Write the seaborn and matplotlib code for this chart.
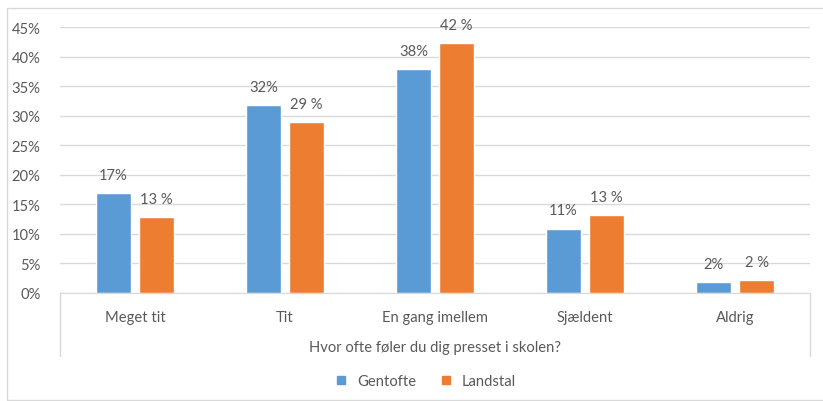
import pandas as pd
import matplotlib.pyplot as plt
import seaborn as sns
from matplotlib.patches import Rectangle
from matplotlib.lines import Line2D

categories = ["Meget tit", "Tit", "En gang imellem", "Sjældent", "Aldrig"]
gentofte = [16.9, 31.8, 37.9, 10.9, 1.9]
landstal = [12.8, 28.9, 42.3, 13.2, 2.2]
series = ["Gentofte", "Landstal"]
colors = ["#5B9BD5", "#ED7D31"]

df = pd.DataFrame({
    "kategori": categories * 2,
    "andel": [v / 100 for v in gentofte + landstal],
    "gruppe": ["Gentofte"] * 5 + ["Landstal"] * 5,
})

sns.set_style("white")
plt.rcParams["font.family"] = ["Lato", "DejaVu Sans"]
txt = "#595959"
fs = 10.6

fig = plt.figure(figsize=(8.23, 4.02), dpi=100)
ax = fig.add_axes([60 / 823, 1 - 294 / 402, 750 / 823, 266 / 402])

sns.barplot(data=df, x="kategori", y="andel", hue="gruppe", palette=colors,
            width=0.575, gap=0.2, legend=False, ax=ax, saturation=1)

ax.set_ylim(0, 0.45)
ax.set_xlim(-0.5, 4.5)
ax.set_yticks([i * 0.05 for i in range(10)])
ax.set_yticklabels([f"{i * 5}%" for i in range(10)], color=txt, fontsize=fs)
ax.tick_params(axis="y", length=0, pad=14)
ax.tick_params(axis="x", length=0, pad=12, labelcolor=txt, labelsize=fs)
ax.grid(axis="y", color="#D9D9D9", linewidth=1)
ax.set_axisbelow(True)
for s in ["top", "right", "left"]:
    ax.spines[s].set_visible(False)
ax.spines["bottom"].set_color("#D9D9D9")
ax.set_xlabel("Hvor ofte føler du dig presset i skolen?", color=txt, fontsize=fs, labelpad=12)
ax.set_ylabel("")

# bar labels
for cont, fmt in zip(ax.containers, ["{:.0f}%", "{:.0f} %"]):
    ax.bar_label(cont, labels=[fmt.format(b.get_height() * 100) for b in cont],
                 padding=8, color=txt, fontsize=fs)

# multi-level category box lines
for xv in [0, 1]:
    ax.plot([xv, xv], [0, -63 / 266], transform=ax.transAxes, color="#D9D9D9",
            linewidth=1, clip_on=False)

# legend
handles = [Line2D([], [], marker="s", linestyle="", color=c, markersize=6) for c in colors]
fig.legend(handles, series, loc="center", bbox_to_anchor=(421 / 823, 1 - 382 / 402),
           ncol=2, frameon=False, fontsize=fs, labelcolor=txt, handletextpad=0.1,
           columnspacing=1.0)

# outer chart border
fig.patches.append(Rectangle((7 / 823, 0.002), 1.0, 1 - 9 / 402 - 0.002,
                             transform=fig.transFigure, fill=False,
                             edgecolor="#D9D9D9", linewidth=1))

fig.savefig("out.png", dpi=100)
